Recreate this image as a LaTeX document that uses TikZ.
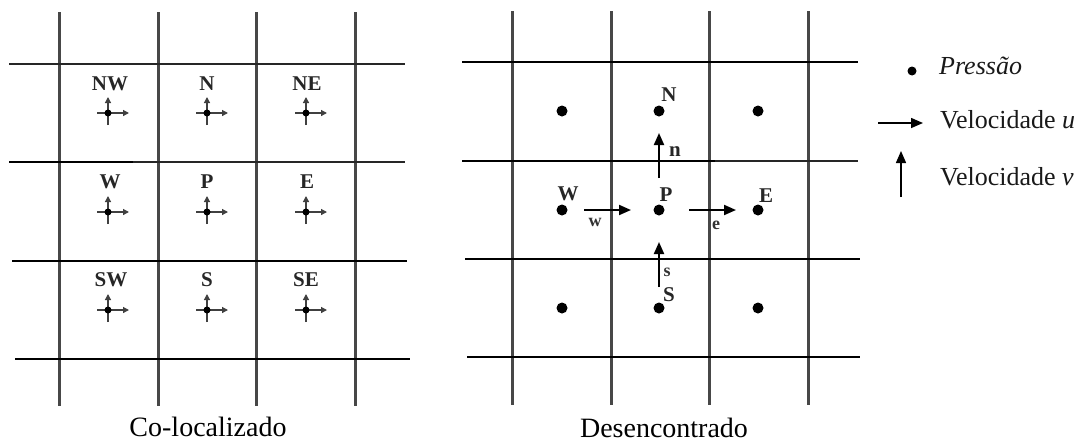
\documentclass[tikz,border=0pt]{standalone}
\usepackage{fontspec}
\setmainfont{Liberation Serif}
\usetikzlibrary{arrows.meta}
\tikzset{
  vline/.style={draw=black!72,line width=3pt},
  hline/.style={draw=black,line width=2pt},
  thinh/.style={draw=black!85,line width=1.1pt},
  lbl/.style={font=\fontsize{21}{24}\selectfont\bfseries,text=black!85,inner sep=0pt},
  slbl/.style={font=\fontsize{18}{20}\selectfont\bfseries,text=black!80,inner sep=0pt},
  capt/.style={font=\fontsize{28}{32}\selectfont,inner sep=0pt},
  legtxt/.style={font=\fontsize{26}{30}\selectfont,text=black!90,inner sep=0pt,anchor=west},
  pdot/.style={circle,fill=black,inner sep=0pt,minimum size=11pt},
  sdot/.style={circle,fill=black,inner sep=0pt,minimum size=7pt},
  vel/.style={draw=black,line width=2pt,-{Triangle[length=12pt,width=10pt]}},
  svel/.style={draw=black!75,line width=1.3pt,-{Triangle[length=6pt,width=6pt]}}
}
\begin{document}
\begin{tikzpicture}[x=1pt,y=-1pt]
\useasboundingbox (0,0) rectangle (1090,445);
\foreach \x in {59,158,256,355}
  \draw[vline] (\x,12) -- (\x,406);
\draw[thinh] (9,64) -- (405,64);
\draw[hline] (9,162) -- (133,162);
\draw[thinh] (133,162) -- (405,162);
\draw[hline,line width=2.6pt] (12,261) -- (407,261);
\draw[hline] (15,359) -- (410,359);
\foreach \x/\y/\t in {110/84/NW,207/84/N,307/84/NE,110/182/W,207/182/P,307/182/E,111/280/SW,207/280/S,306/280/SE}
  \node[lbl] (l\t) at (\x,\y) {\t};
\foreach \x/\i in {108/1,207/2,306/3}
  \foreach \y/\j in {113/1,212/2,310/3} {
    \draw[svel] (\x-11,\y) -- (\x+21,\y);
    \draw[svel] (\x,\y+12) -- (\x,\y-16);
    \node[sdot] (m\i\j) at (\x,\y) {};
  }
\node[capt] (cl) at (208,427) {Co-localizado};
\foreach \x in {512,611,709,808}
  \draw[vline] (\x,11) -- (\x,405);
\draw[hline] (462,62) -- (858,62);
\draw[hline] (462,161) -- (715,161);
\draw[thinh] (715,161) -- (858,161);
\draw[hline] (465,259) -- (860,259);
\draw[hline] (467,357) -- (860,357);
\foreach \x/\i in {562/1,659/2,758/3}
  \foreach \y/\j in {111/1,210/2,308/3}
    \node[pdot] (p\i\j) at (\x,\y) {};
\node[lbl] (N) at (669,95) {N};
\node[lbl] (W) at (568,194) {W};
\node[lbl] (P) at (666,195) {P};
\node[lbl] (E) at (766,196) {E};
\node[lbl] (S) at (669,295) {S};
\node[lbl] (n) at (675,152) {n};
\node[slbl] (w) at (595,222) {w};
\node[slbl] (e) at (716,225) {e};
\node[slbl] (s) at (667,272) {s};
\coordinate (w0) at (584,210);
\coordinate (w1) at (631,210);
\coordinate (e0) at (689,210);
\coordinate (e1) at (736,210);
\coordinate (n0) at (659,178);
\coordinate (n1) at (659,133);
\coordinate (s0) at (659,287);
\coordinate (s1) at (659,242);
\draw[vel] (w0) -- (w1);
\draw[vel] (e0) -- (e1);
\draw[vel] (n0) -- (n1);
\draw[vel] (s0) -- (s1);
\node[capt] (dc) at (664,428) {Desencontrado};
\node[pdot,minimum size=9pt] (kp) at (912,71) {};
\node[legtxt] (tp) at (939,66) {\itshape Pressão};
\coordinate (ku0) at (878,123);
\coordinate (ku1) at (923,123);
\draw[vel,line width=1.5pt] (ku0) -- (ku1);
\node[legtxt] (tu) at (940,120) {Velocidade \textit{u}};
\coordinate (kv0) at (901,197);
\coordinate (kv1) at (901,151);
\draw[vel,line width=1.5pt] (kv0) -- (kv1);
\node[legtxt] (tv) at (940,177) {Velocidade \textit{v}};
\end{tikzpicture}
\end{document}
